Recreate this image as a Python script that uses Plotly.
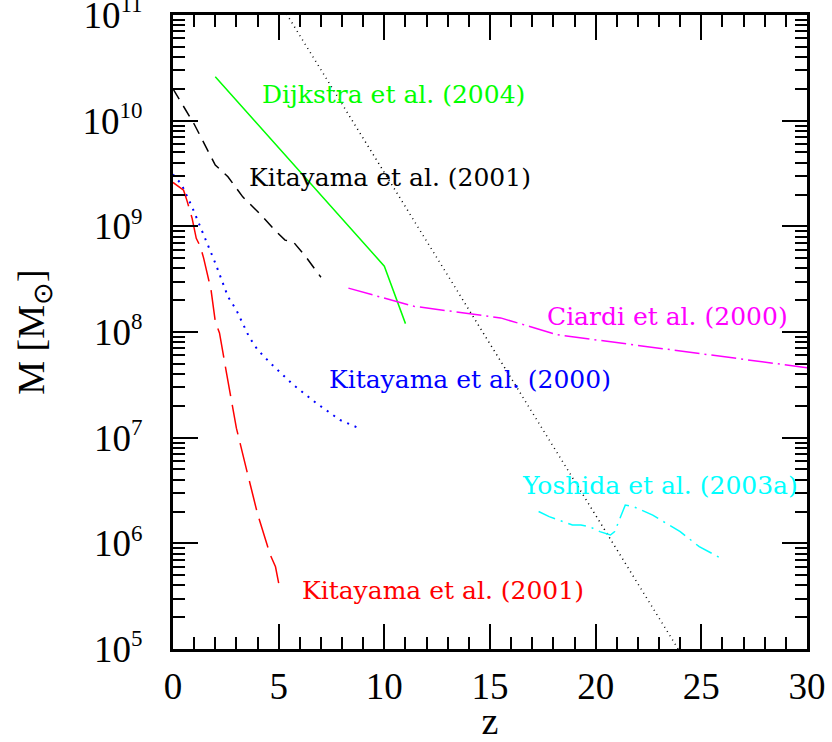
import plotly.graph_objects as go

# Halo mass thresholds versus redshift from several studies
z_dijkstra = [2.0, 10.0, 11.0]
m_dijkstra = [2.6e10, 4.2e8, 1.2e8]

z_kit01a = [0.0, 1.0, 2.0, 2.6, 3.3, 4.1, 4.8, 5.3, 5.7, 6.3, 7.0]
m_kit01a = [2.0e10, 9.3e9, 3.8e9, 2.95e9, 1.9e9, 1.32e9, 9.3e8, 7.4e8, 7.1e8, 5.1e8, 3.3e8]

z_kit00 = [0.0, 0.4, 0.9, 1.3, 1.7, 2.0, 2.6, 3.0, 3.6, 4.0, 4.6, 5.7, 6.8, 7.9, 8.8]
m_kit00 = [3.1e9, 2.5e9, 1.53e9, 9.9e8, 6.4e8, 4.5e8, 2.16e8, 1.61e8, 9.0e7, 6.8e7,
           5.1e7, 3.15e7, 2.11e7, 1.47e7, 1.23e7]

z_kit01b = [0.0, 0.3, 0.5, 0.65, 0.9, 1.1, 1.3, 1.45, 1.8, 2.0, 2.2, 2.55, 3.0, 3.5,
            4.0, 4.6, 4.85, 5.0]
m_kit01b = [2.6e9, 2.35e9, 2.2e9, 1.78e9, 1.2e9, 7.7e8, 6.4e8, 5.0e8, 2.5e8, 1.26e8,
            9.8e7, 3.9e7, 1.23e7, 4.8e6, 1.9e6, 7.8e5, 6.0e5, 4.2e5]

z_ciardi = [8.3, 11.4, 15.5, 18.2, 30.0]
m_ciardi = [2.6e8, 1.75e8, 1.36e8, 9.4e7, 4.6e7]

z_yoshida = [17.3, 17.8, 18.9, 19.3, 19.7, 20.2, 20.7, 20.9, 21.4, 21.8, 22.7, 24.0,
             24.9, 26.0]
m_yoshida = [2.0e6, 1.79e6, 1.49e6, 1.49e6, 1.44e6, 1.29e6, 1.2e6, 1.29e6, 2.3e6,
             2.22e6, 1.85e6, 1.29e6, 9.3e5, 7.1e5]

z_limit = [5.0, 24.5]
m_limit = [1.35e11, 6.4e4]

x_ticks = [0, 5, 10, 15, 20, 25, 30]
y_ticks = [1e5, 1e6, 1e7, 1e8, 1e9, 1e10, 1e11]
y_tick_text = ["10<sup><span style='font-size:23px'>%d</span></sup>" % e
               for e in range(5, 12)]

labels = [
    ("Dijkstra et al. (2004)", 4.1, 10.25, "#00ff00"),
    ("Kitayama et al. (2001)", 3.5, 9.46, "#000000"),
    ("Ciardi et al. (2000)", 17.6, 8.15, "#ff00ff"),
    ("Kitayama et al. (2000)", 7.3, 7.555, "#0000ff"),
    ("Yoshida et al. (2003a)", 16.4, 6.545, "#00ffff"),
    ("Kitayama et al. (2001)", 6.0, 5.55, "#ff0000"),
]

AXIS_FONT = "Liberation Serif"
LABEL_FONT = "DejaVu Serif"

fig = go.Figure()

def add_line(x, y, color, dash, width=1.5):
    fig.add_trace(go.Scatter(x=x, y=y, mode="lines",
                             line=dict(color=color, dash=dash, width=width),
                             showlegend=False, hoverinfo="skip"))

add_line(z_limit, m_limit, "#000000", "1px,4px", 1.5)
add_line(z_dijkstra, m_dijkstra, "#00ff00", "solid")
add_line(z_kit01a, m_kit01a, "#000000", "12px,8px")
add_line(z_kit00, m_kit00, "#0000ff", "2px,6px", 2)
add_line(z_kit01b, m_kit01b, "#ff0000", "30px,9px")
add_line(z_ciardi, m_ciardi, "#ff00ff", "25px,5px,2px,5px")
add_line(z_yoshida, m_yoshida, "#00ffff", "18px,6px,2px,6px")

for text, xz, ylog, color in labels:
    fig.add_annotation(x=xz, y=ylog, text=text, showarrow=False,
                       xanchor="left", yanchor="middle",
                       font=dict(family=LABEL_FONT, size=25, color=color))

axis_common = dict(
    showgrid=False, zeroline=False, automargin=False, ticklabeloverflow="allow",
    showline=True, linecolor="black", linewidth=3,
    mirror="ticks", ticks="inside", ticklen=25, tickwidth=2, tickcolor="black",
    tickfont=dict(family=AXIS_FONT, size=37, color="black"),
)

fig.update_xaxes(
    range=[0, 30], tickvals=x_ticks, ticklabelstandoff=3,
    minor=dict(dtick=1, ticks="inside", ticklen=12, tickwidth=2, tickcolor="black"),
    title=dict(text="z", font=dict(family=AXIS_FONT, size=38, color="black"), standoff=8),
    **axis_common,
)
fig.update_yaxes(
    type="log", range=[4.99999, 11.00001], tickvals=y_ticks, ticktext=y_tick_text,
    ticklabelstandoff=20,
    minor=dict(dtick="D1", ticks="inside", ticklen=12, tickwidth=2, tickcolor="black"),
    title=dict(text="M [M<sub>⊙</sub>]", font=dict(family=AXIS_FONT, size=38, color="black"),
               standoff=27),
    **axis_common,
)

fig.update_layout(
    width=832, height=742,
    margin=dict(l=173, r=25, t=15, b=93),
    plot_bgcolor="white", paper_bgcolor="white",
)

fig.write_html("out.html")
